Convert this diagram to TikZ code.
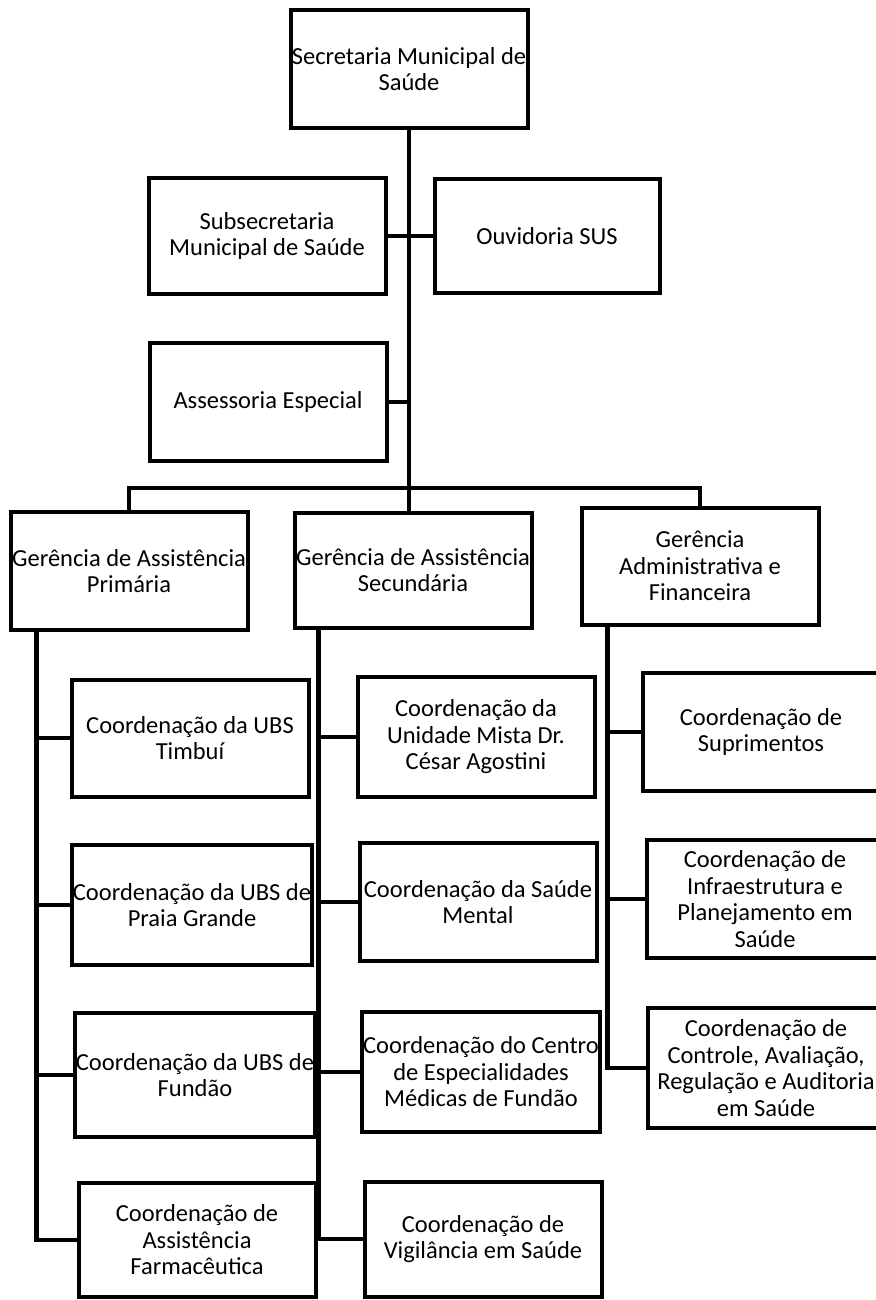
\documentclass[tikz,border=0pt]{standalone}
\usepackage{fontspec}
\setmainfont{Carlito}

\begin{document}
\begin{tikzpicture} [x=1pt,y=-1pt,{caixa/.style={rectangle,draw=black,line width=4pt,minimum width=237pt,minimum height=118pt,inner sep=1pt,align=center,font=\fontsize{24.5}{26.5}\selectfont}},{ligacao/.style={color=black,line width=4.5pt}}]
		\useasboundingbox (0,0) rectangle (875,1300);
		%%topo
		\node at (409,69) [caixa] (smsa) {Secretaria Municipal de\\Saúde};
		\node at (267,236) [caixa,minimum height=115pt] (subs) {Subsecretaria\\Municipal de Saúde};
		\node at (547,236) [caixa,minimum width=225pt,minimum height=113pt] (ouvi) {Ouvidoria SUS};
		\node at (268,402) [caixa] (asse) {Assessoria Especial};
		%%gerencias
		\node at (129,571) [caixa] (gprim) {Gerência de Assistência\\Primária};
		\node at (413,570) [caixa,minimum height=115pt] (gsec) {Gerência de Assistência\\Secundária};
		\node at (700,566) [caixa,minimum height=117pt] (gadm) {Gerência\\Administrativa e\\Financeira};
		%%coordenacoes primaria
		\node at (190,738) [caixa,minimum height=117pt] (timb) {Coordenação da UBS\\Timbuí};
		\node at (192,905) [caixa,minimum height=120pt] (praia) {Coordenação da UBS de\\Praia Grande};
		\node at (195,1075) [caixa,minimum height=124pt] (fund) {Coordenação da UBS de\\Fundão};
		\node at (197,1240) [caixa,minimum height=114pt] (farm) {Coordenação de\\Assistência\\Farmacêutica};
		%%coordenacoes secundaria
		\node at (476,737) [caixa,minimum height=120pt] (mista) {Coordenação da\\Unidade Mista Dr.\\César Agostini};
		\node at (478,902) [caixa] (ment) {Coordenação da Saúde\\Mental};
		\node at (481,1072) [caixa,minimum height=120pt] (cem) {Coordenação do Centro\\de Especialidades\\Médicas de Fundão};
		\node at (483,1239) [caixa,minimum height=115pt] (vig) {Coordenação de\\Vigilância em Saúde};
		%%coordenacoes administrativa
		\node at (761,732) [caixa,minimum width=236pt] (supr) {Coordenação de\\Suprimentos};
		\node at (765,899) [caixa,minimum width=236pt] (infra) {Coordenação de\\Infraestrutura e\\Planejamento em\\Saúde};
		\node at (766,1068) [caixa,minimum width=236pt,minimum height=120pt] (ctrl) {Coordenação de\\Controle, Avaliação,\\Regulação e Auditoria\\em Saúde};
		%%ligacoes
		\coordinate (barra) at (0,488);
		\draw [ligacao] (smsa.south) -- (smsa.south |- gsec.north);
		\draw [ligacao] (subs.east) -- (ouvi.west);
		\draw [ligacao] (asse.east) -- (asse.east -| smsa.south);
		\draw [ligacao] (gprim.north) -- (gprim.north |- barra) -- (gadm.north |- barra) -- (gadm.north);
		\coordinate (esp1) at ([xshift=28pt]gprim.south west);
		\coordinate (esp2) at ([xshift=26pt]gsec.south west);
		\coordinate (esp3) at ([xshift=28pt]gadm.south west);
		\foreach \c in {timb,praia,fund,farm} \draw [ligacao] (esp1) |- (\c.west);
		\foreach \c in {mista,ment,cem,vig} \draw [ligacao] (esp2) |- (\c.west);
		\foreach \c in {supr,infra,ctrl} \draw [ligacao] (esp3) |- (\c.west);
	\end{tikzpicture}
\end{document}
